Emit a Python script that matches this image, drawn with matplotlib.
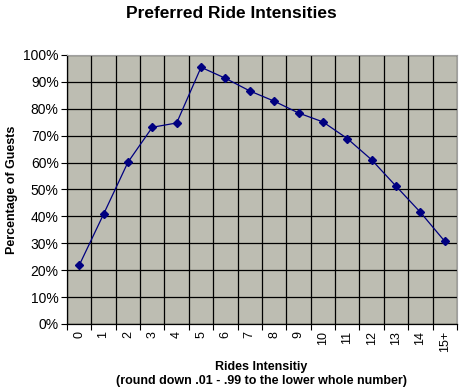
import numpy as np
import matplotlib
matplotlib.use("Agg")
import matplotlib.pyplot as plt
from matplotlib.ticker import FixedLocator, PercentFormatter

plt.rcParams["font.family"] = ["Liberation Sans", "DejaVu Sans"]

# Data
categories = ["0", "1", "2", "3", "4", "5", "6", "7", "8", "9",
              "10", "11", "12", "13", "14", "15+"]
percent_guests = [21.8, 40.8, 60.1, 73.1, 74.7, 95.4, 91.3, 86.6,
                  82.8, 78.4, 75.1, 68.9, 61.0, 51.2, 41.5, 30.7]

fig = plt.figure(figsize=(4.63, 3.92), dpi=100)
ax = fig.add_axes([0.1447, 0.1735, 0.8423, 0.6865])
ax.set_facecolor("#bdbdb2")

x = np.arange(len(categories))
ax.plot(x, percent_guests, color="#000080", lw=0.9, marker="D",
        markersize=4, markerfacecolor="#000080", markeredgecolor="#000080",
        zorder=3)

ax.set_xlim(-0.5, len(categories) - 0.5)
ax.set_ylim(0, 100)

# y axis
ax.set_yticks(np.arange(0, 101, 10))
ax.yaxis.set_major_formatter(PercentFormatter(decimals=0))
ax.tick_params(axis="y", length=4, width=0.8, labelsize=10, pad=2)

# x axis: labels centered, ticks between categories
ax.set_xticks(x)
ax.set_xticklabels(categories, rotation=90, fontsize=9)
ax.tick_params(axis="x", which="major", length=0, pad=5)
ax.xaxis.set_minor_locator(FixedLocator(np.arange(-0.5, len(categories), 1)))
ax.tick_params(axis="x", which="minor", length=4, width=0.8)

ax.grid(True, axis="y", which="major", color="black", lw=0.9)
ax.grid(True, axis="x", which="minor", color="black", lw=0.9)
ax.set_axisbelow(True)

for side in ["top", "right"]:
    ax.spines[side].set_color("#a0a0a0")
    ax.spines[side].set_linewidth(0.8)
for side in ["left", "bottom"]:
    ax.spines[side].set_color("black")
    ax.spines[side].set_linewidth(0.9)

fig.text(0.026, 0.515, "Percentage of Guests", rotation=90, ha="center",
         va="center", fontsize=9, fontweight="bold")

# two-line axis title under the x tick labels
fig.text(0.565, 0.064, "Rides Intensitiy", ha="center", va="center",
         fontsize=9, fontweight="bold")
fig.text(0.565, 0.028, "(round down .01 - .99 to the lower whole number)",
         ha="center", va="center", fontsize=9, fontweight="bold")

fig.suptitle("Preferred Ride Intensities", x=0.5, y=0.985, fontsize=12.5,
             fontweight="bold")

fig.savefig("out.png", dpi=100)
